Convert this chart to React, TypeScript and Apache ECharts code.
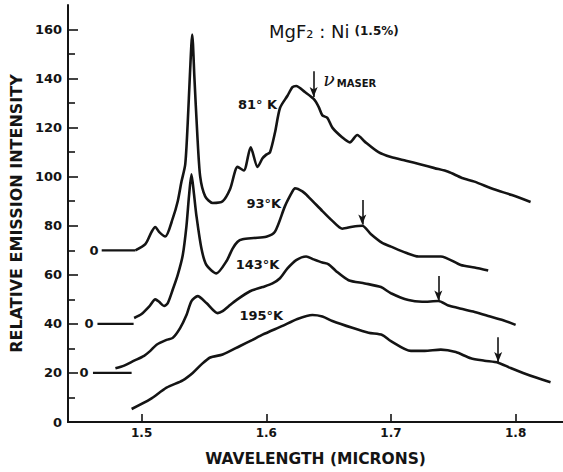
import React, { useEffect, useRef } from "react";
import * as echarts from "echarts";

// ---- data (wavelength in microns, relative emission intensity) ----
const wl81 = [1.495, 1.503, 1.508, 1.511, 1.514, 1.519, 1.525, 1.529, 1.532, 1.535, 1.537, 1.5388, 1.5406, 1.5424, 1.5446, 1.547, 1.551, 1.557, 1.565, 1.571, 1.577, 1.582, 1.5875, 1.593, 1.597, 1.6, 1.603, 1.607, 1.611, 1.617, 1.621, 1.624, 1.631, 1.638, 1.642, 1.645, 1.649, 1.653, 1.661, 1.667, 1.673, 1.679, 1.69, 1.7, 1.712, 1.724, 1.735, 1.746, 1.757, 1.767, 1.782, 1.797, 1.812];
const int81 = [70, 72.5, 77.5, 79.5, 77.5, 75.6, 83, 90, 98, 105, 122, 142, 158, 140, 118, 100, 92, 89.3, 90, 95, 104, 102.5, 112, 104, 107.5, 109, 110, 118, 128, 133, 136.5, 137, 134.5, 131.7, 128.5, 125, 124, 120, 116, 114, 117, 114.3, 110, 108, 106.5, 105, 103.5, 102, 99.5, 98, 95, 92.5, 89.7];

const wl93 = [1.494, 1.5, 1.506, 1.511, 1.514, 1.518, 1.521, 1.525, 1.529, 1.533, 1.536, 1.538, 1.54, 1.542, 1.544, 1.548, 1.552, 1.56, 1.568, 1.573, 1.577, 1.581, 1.59, 1.6, 1.607, 1.615, 1.621, 1.623, 1.629, 1.634, 1.645, 1.653, 1.661, 1.669, 1.677, 1.684, 1.693, 1.7, 1.712, 1.722, 1.74, 1.756, 1.767, 1.778];
const int93 = [42.4, 44, 47, 50, 49, 47.3, 48.5, 54, 60, 68, 80, 92, 101, 93, 84, 70.7, 64, 60.6, 65.5, 70.7, 73.5, 74.5, 75, 75.5, 77.6, 88, 94, 95.3, 94, 91.7, 86, 82, 78.8, 79.6, 80, 76.5, 73, 71.5, 69, 67.5, 67.5, 64, 63, 61.8];

const wl143 = [1.479, 1.486, 1.494, 1.502, 1.507, 1.512, 1.52, 1.525, 1.531, 1.536, 1.54, 1.545, 1.552, 1.561, 1.565, 1.57, 1.576, 1.587, 1.597, 1.605, 1.611, 1.617, 1.624, 1.632, 1.638, 1.645, 1.65, 1.656, 1.666, 1.679, 1.692, 1.7, 1.714, 1.725, 1.738, 1.746, 1.754, 1.766, 1.778, 1.79, 1.8];
const int143 = [21.9, 23, 25, 27, 29, 31.5, 33.5, 34.3, 38.4, 43.6, 49.3, 51.3, 48.5, 44.4, 45.2, 47.3, 49.7, 53.3, 55, 56.5, 58.6, 62.6, 66, 67.5, 66.3, 65, 64.3, 61.5, 57.8, 56.5, 55, 52.5, 49.7, 49, 49.3, 47.5, 46.5, 45, 43.2, 41.5, 39.6];

const wl195 = [1.492, 1.507, 1.52, 1.533, 1.541, 1.548, 1.555, 1.565, 1.579, 1.589, 1.597, 1.613, 1.625, 1.637, 1.645, 1.653, 1.669, 1.682, 1.693, 1.7, 1.716, 1.727, 1.74, 1.752, 1.764, 1.775, 1.786, 1.796, 1.806, 1.817, 1.828];
const int195 = [5.3, 9.3, 14, 17, 20, 23.5, 26.3, 27.5, 31, 33.5, 35.6, 39.2, 42, 43.6, 43, 41.2, 38.4, 36.4, 35.5, 33, 29, 29, 29.5, 28.5, 26, 25, 24.2, 22, 20, 18, 16.2];

// maser-line arrows: wavelength, arrow top, arrow tip
const arrowWl = [1.638, 1.677, 1.738, 1.786];
const arrowTop = [143, 90.5, 59.5, 34.5];
const arrowTip = [132.5, 80.5, 49.5, 24.5];

// zero-offset baselines of the shifted curves
const baseLevel = [70, 40, 20];
const baseStart = [1.468, 1.4646, 1.461];
const baseEnd = [1.495, 1.4936, 1.492];
const zeroLabelWl = [1.4618, 1.4578, 1.4539];

// temperature labels
const tempNames = ["81° K", "93°K", "143°K", "195°K"];
const tempWl = [1.593, 1.598, 1.593, 1.596];
const tempVal = [129.3, 88.9, 64.2, 43.6];

const yMajor = [0, 20, 40, 60, 80, 100, 120, 140, 160];
const yMinor = [10, 30, 50, 70, 90, 110, 130, 150];
const xTicks = [1.5, 1.6, 1.7, 1.8];

const INK = "#141414";
const FONT = "DejaVu Sans";

function zip(xs: number[], ys: number[]) {
  return xs.map((x, i) => [x, ys[i]]);
}

export default function App() {
  const ref = useRef<HTMLDivElement>(null);
  useEffect(() => {
    if (!ref.current) return;
    const chart = echarts.init(ref.current, undefined, { renderer: "svg" });
    const curves = [
      { name: "81K", d: zip(wl81, int81) },
      { name: "93K", d: zip(wl93, int93) },
      { name: "143K", d: zip(wl143, int143) },
      { name: "195K", d: zip(wl195, int195) },
    ];
    const series: any[] = curves.map((c, i) => ({
      type: "line",
      name: c.name,
      data: c.d,
      showSymbol: false,
      smooth: 0.25,
      lineStyle: { color: INK, width: 2.6 },
      z: 3,
      markLine: {
        silent: true,
        symbol: ["none", "arrow"],
        symbolSize: [6, 10],
        label: { show: false },
        lineStyle: { color: INK, width: 1.6, type: "solid" },
        data: [[{ coord: [arrowWl[i], arrowTop[i]] }, { coord: [arrowWl[i], arrowTip[i]] }]],
      },
    }));
    baseLevel.forEach((lv, i) => {
      series.push({
        type: "line",
        data: [[baseStart[i], lv], [baseEnd[i], lv]],
        showSymbol: false,
        lineStyle: { color: INK, width: 2.2 },
      });
    });
    const labelItem = { color: "rgba(0,0,0,0)", opacity: 1 };
    series.push({
      type: "scatter",
      symbolSize: 1,
      itemStyle: labelItem,
      data: baseLevel.map((lv, i) => ({ value: [zeroLabelWl[i], lv], name: "0" })),
      label: { show: true, position: "inside", formatter: "{b}", color: INK, fontFamily: FONT, fontWeight: "bold", fontSize: 13 },
    });
    series.push({
      type: "scatter",
      symbolSize: 1,
      itemStyle: labelItem,
      data: tempNames.map((n, i) => ({ value: [tempWl[i], tempVal[i]], name: n })),
      label: { show: true, position: "inside", formatter: "{b}", color: INK, fontFamily: FONT, fontWeight: "bold", fontSize: 13 },
    });
    series.push({
      type: "scatter",
      symbolSize: 1,
      itemStyle: labelItem,
      data: [{ value: [1.667, 140], name: "maser" }],
      label: {
        show: true,
        position: "inside",
        formatter: "{nu|ν}{sub|MASER}",
        rich: {
          nu: { fontFamily: "DejaVu Serif", fontStyle: "italic", fontSize: 19, color: INK, verticalAlign: "bottom" },
          sub: { fontFamily: FONT, fontWeight: "bold", fontSize: 10, color: INK, verticalAlign: "bottom", padding: [0, 0, 0, 2] },
        },
      },
    });

    chart.setOption({
      animation: false,
      backgroundColor: "#ffffff",
      grid: { left: 64, right: 0, top: 5, bottom: 47 },
      title: {
        text: "{m|MgF₂ : Ni} {s|(1.5%)}",
        left: 264,
        top: 17,
        textStyle: {
          fontWeight: "normal",
          rich: {
            m: { fontFamily: FONT, fontWeight: "normal", fontSize: 18, color: INK },
            s: { fontFamily: FONT, fontWeight: "bold", fontSize: 12, color: INK },
          },
        },
      },
      xAxis: [
        {
          type: "value",
          min: 1.441,
          max: 1.838,
          position: "bottom",
          name: "WAVELENGTH (MICRONS)",
          nameLocation: "middle",
          nameGap: 29,
          nameTextStyle: { fontFamily: FONT, fontWeight: "bold", fontSize: 15.5, color: INK },
          axisLine: { show: true, lineStyle: { color: INK, width: 2 } },
          axisTick: { show: true, inside: true, length: 8, customValues: xTicks, lineStyle: { color: INK, width: 1.6 } },
          axisLabel: {
            customValues: xTicks,
            margin: 5,
            fontFamily: FONT,
            fontWeight: "bold",
            fontSize: 12,
            color: INK,
            formatter: (v: number) => v.toFixed(1),
          },
          splitLine: { show: false },
        },
        {
          type: "value",
          min: 1.441,
          max: 1.838,
          position: "top",
          axisLine: { show: true, lineStyle: { color: INK, width: 2 } },
          axisTick: { show: false },
          axisLabel: { show: false },
          splitLine: { show: false },
        },
      ],
      yAxis: [
        {
          type: "value",
          min: 0,
          max: 170,
          position: "left",
          name: "RELATIVE EMISSION INTENSITY",
          nameLocation: "middle",
          nameGap: 40,
          nameTextStyle: { fontFamily: FONT, fontWeight: "bold", fontSize: 16, color: INK },
          axisLine: { show: true, lineStyle: { color: INK, width: 2 } },
          axisTick: { show: true, inside: true, length: 10, customValues: yMajor, lineStyle: { color: INK, width: 1.6 } },
          axisLabel: { customValues: yMajor, margin: 6, fontFamily: FONT, fontWeight: "bold", fontSize: 13, color: INK },
          splitLine: { show: false },
        },
        {
          type: "value",
          min: 0,
          max: 170,
          position: "left",
          axisLine: { show: false },
          axisTick: { show: true, inside: true, length: 7, customValues: yMinor, lineStyle: { color: INK, width: 1.6 } },
          axisLabel: { show: false },
          splitLine: { show: false },
        },
      ],
      series,
    });
    return () => chart.dispose();
  }, []);
  return <div ref={ref} style={{ position: "absolute", left: 0, top: 0, width: 563, height: 472 }} />;
}
